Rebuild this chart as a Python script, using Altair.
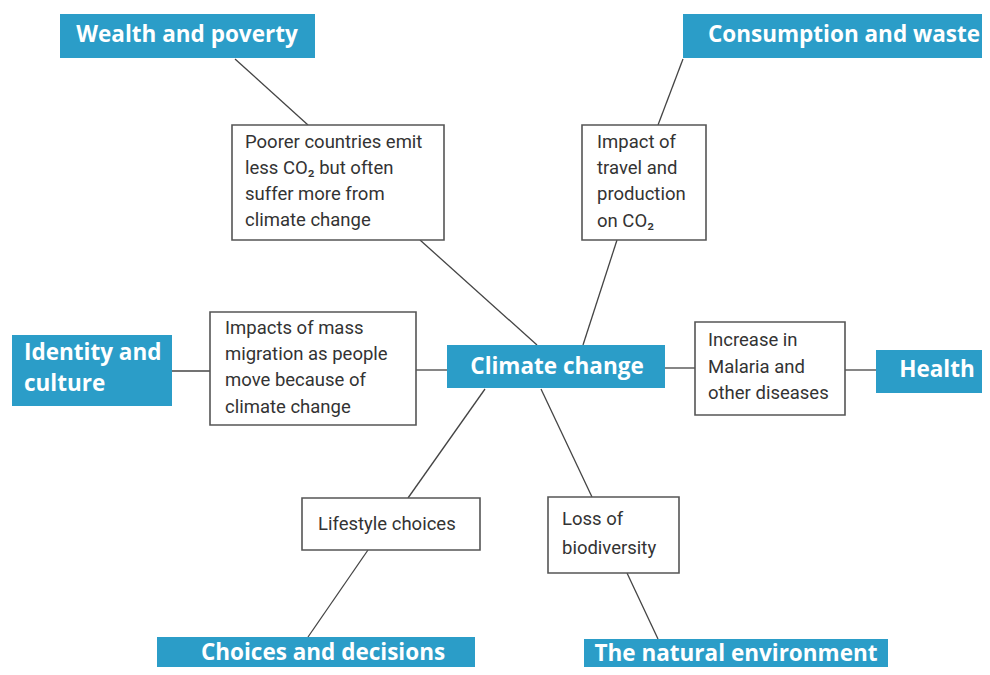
import altair as alt
import pandas as pd

# ---- data (reference pixel coordinates, y downward) ----
blue_labels = ["Wealth and poverty", "Consumption and waste", "Identity and culture",
               "Climate change", "Health", "Choices and decisions", "The natural environment"]
blue_x1 = [60, 683, 12, 447, 876, 157, 584]
blue_x2 = [315, 990, 172, 665, 990, 475, 888]
blue_y1 = [14, 14, 335, 345, 350, 637, 639]
blue_y2 = [58, 58, 406, 388, 393, 675, 675]

white_ids = ["poorer", "travel", "migration", "malaria", "lifestyle", "biodiversity"]
white_x1 = [232, 582, 210, 695, 302, 548]
white_x2 = [444, 706, 416, 845, 480, 679]
white_y1 = [125, 125, 312, 322, 498, 497]
white_y2 = [240, 240, 425, 415, 550, 573]

# centred white-on-blue labels
bc_text = ["Wealth and poverty", "Consumption and waste", "Climate change", "Health",
           "Choices and decisions", "The natural environment"]
bc_x = [187, 844, 557, 937, 323, 736]
bc_y = [35, 35, 367, 370, 653, 654]

# left-aligned white-on-blue labels
bl_text = ["Identity and", "culture"]
bl_x = [24, 24]
bl_y = [353, 384]

# dark text inside white boxes
wt_text = ["Poorer countries emit", "less CO\u2082 but often", "suffer more from", "climate change",
           "Impact of", "travel and", "production", "on CO\u2082",
           "Impacts of mass", "migration as people", "move because of", "climate change",
           "Increase in", "Malaria and", "other diseases",
           "Lifestyle choices",
           "Loss of", "biodiversity"]
wt_x = [245, 245, 245, 245,
        597, 597, 597, 597,
        225, 225, 225, 225,
        708, 708, 708,
        318,
        562, 562]
wt_y = [142, 168, 194, 220,
        142, 168, 194, 221,
        328, 354, 380, 407,
        340, 367, 393,
        524,
        519, 548]

# connectors
ln_x1 = [235, 420, 683, 617, 172, 416, 665, 845, 485, 368, 541, 627]
ln_y1 = [59, 240, 59, 240, 371, 370, 368, 370, 389, 550, 389, 573]
ln_x2 = [308, 537, 658, 583, 210, 447, 695, 876, 408, 308, 592, 658]
ln_y2 = [125, 345, 125, 345, 371, 370, 368, 370, 498, 637, 497, 639]

blue_df = pd.DataFrame({"label": blue_labels, "x1": blue_x1, "x2": blue_x2, "y1": blue_y1, "y2": blue_y2})
white_df = pd.DataFrame({"id": white_ids, "x1": white_x1, "x2": white_x2, "y1": white_y1, "y2": white_y2})
bc_df = pd.DataFrame({"t": bc_text, "x": bc_x, "y": bc_y})
bl_df = pd.DataFrame({"t": bl_text, "x": bl_x, "y": bl_y})
wt_df = pd.DataFrame({"t": wt_text, "x": wt_x, "y": wt_y})
ln_df = pd.DataFrame({"x1": ln_x1, "y1": ln_y1, "x2": ln_x2, "y2": ln_y2})

W, H = 974, 659
xs = alt.Scale(domain=[8, 8 + W], nice=False, zero=False)
ys = alt.Scale(domain=[8, 8 + H], nice=False, zero=False, reverse=True)

def X(f):
    return alt.X(f, type="quantitative", scale=xs, axis=None)

def Y(f):
    return alt.Y(f, type="quantitative", scale=ys, axis=None)

BLUE = "#2b9dc8"

lines = alt.Chart(ln_df).mark_rule(color="#444444", strokeWidth=1.3).encode(
    x=X("x1"), y=Y("y1"), x2="x2", y2="y2")

blue = alt.Chart(blue_df).mark_rect(color=BLUE).encode(
    x=X("x1"), x2="x2", y=Y("y1"), y2="y2")

white = alt.Chart(white_df).mark_rect(fill="white", stroke="#555555", strokeWidth=1.6).encode(
    x=X("x1"), x2="x2", y=Y("y1"), y2="y2")

bc = alt.Chart(bc_df).mark_text(font="Open Sans", fontWeight="bold", fontSize=22.5,
                                color="white", align="center", baseline="middle").encode(
    x=X("x"), y=Y("y"), text="t")

bl = alt.Chart(bl_df).mark_text(font="Open Sans", fontWeight="bold", fontSize=22.5,
                                color="white", align="left", baseline="middle").encode(
    x=X("x"), y=Y("y"), text="t")

wt = alt.Chart(wt_df).mark_text(font="Roboto", fontSize=18.5, color="#333333",
                                align="left", baseline="middle").encode(
    x=X("x"), y=Y("y"), text="t")

chart = alt.layer(lines, blue, white, bc, bl, wt).properties(
    width=W, height=H, padding=0, autosize=alt.AutoSizeParams(type="none")
).configure_view(strokeWidth=0)

chart.save("out.html", embed_options={"renderer": "svg", "actions": False})
